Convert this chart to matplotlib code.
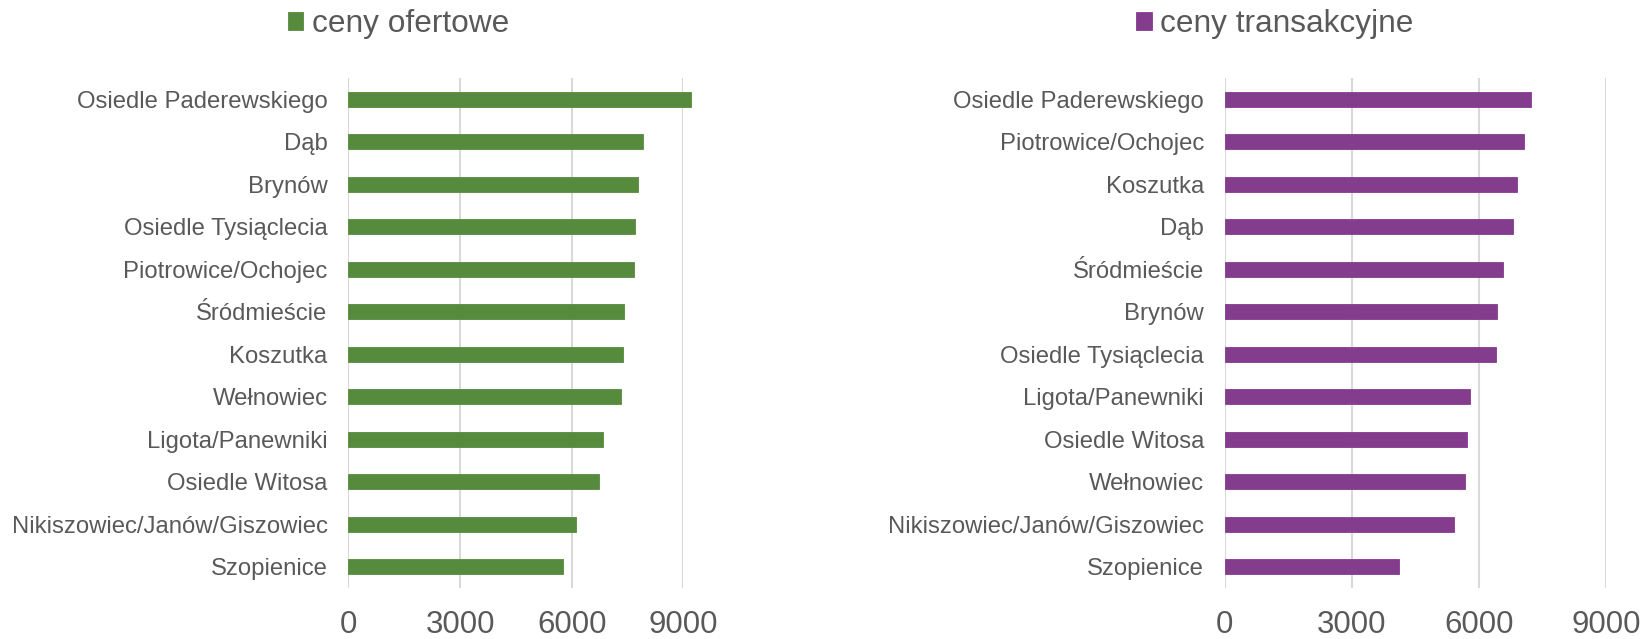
import matplotlib.pyplot as plt

plt.rcParams['font.family'] = ['Liberation Sans', 'DejaVu Sans']

# ceny ofertowe
offer_names = ["Osiedle Paderewskiego", "Dąb", "Brynów", "Osiedle Tysiąclecia",
               "Piotrowice/Ochojec", "Śródmieście", "Koszutka", "Wełnowiec",
               "Ligota/Panewniki", "Osiedle Witosa", "Nikiszowiec/Janów/Giszowiec",
               "Szopienice"]
offer_values = [9210, 7905, 7790, 7710, 7680, 7415, 7385, 7315, 6840, 6725, 6105, 5775]

# ceny transakcyjne
trans_names = ["Osiedle Paderewskiego", "Piotrowice/Ochojec", "Koszutka", "Dąb",
               "Śródmieście", "Brynów", "Osiedle Tysiąclecia", "Ligota/Panewniki",
               "Osiedle Witosa", "Wełnowiec", "Nikiszowiec/Janów/Giszowiec",
               "Szopienice"]
trans_values = [7225, 7060, 6885, 6805, 6555, 6430, 6390, 5775, 5705, 5665, 5415, 4110]

ticks = [0, 3000, 6000, 9000]
text_col = "#595959"

fig = plt.figure(figsize=(16.44, 6.39), dpi=100)
ax1 = fig.add_axes([0.2119, 0.0798, 0.2038, 0.798])
ax2 = fig.add_axes([0.745, 0.0798, 0.2321, 0.798])


def draw(ax, names, values, color, label, legend_x):
    pos = list(range(len(names)))
    bars = ax.barh(pos, values, height=0.345, color=color, edgecolor=color,
                   linewidth=0.6, label=label, zorder=3, clip_on=False)
    ax.set_ylim(len(names) - 0.5, -0.5)
    ax.set_yticks(pos)
    ax.set_yticklabels(names)
    ax.set_xlim(0, 9000)
    ax.set_xticks(ticks)
    ax.set_xticklabels([str(t) for t in ticks])
    ax.grid(axis='x', color="#D9D9D9", linewidth=1.5, zorder=0)
    ax.tick_params(axis='y', length=0, pad=15, labelsize=17.2, labelcolor=text_col)
    ax.tick_params(axis='x', length=0, pad=16, labelsize=22.5, labelcolor=text_col)
    for s in ax.spines.values():
        s.set_visible(False)
    ax.legend(handles=[bars], loc='center', bbox_to_anchor=(legend_x, 0.962),
              bbox_transform=fig.transFigure, frameon=False, fontsize=22.8,
              labelcolor=text_col, handlelength=0.49, handleheight=0.49,
              handletextpad=0.27, borderpad=0)


draw(ax1, offer_names, offer_values, "#568A3D", "ceny ofertowe", 0.2424)
draw(ax2, trans_names, trans_values, "#843C8C", "ceny transakcyjne", 0.7755)

plt.savefig("out.png", dpi=100)
